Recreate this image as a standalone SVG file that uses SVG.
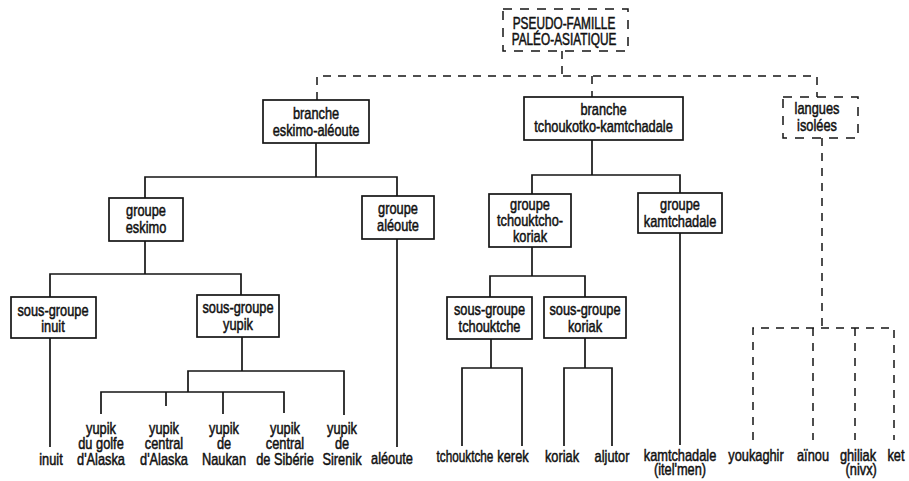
<svg xmlns="http://www.w3.org/2000/svg" width="909" height="481" viewBox="0 0 909 481">
  <style>
    .bg { fill: #ffffff; }
    .box { fill: #ffffff; stroke: #151515; stroke-width: 1.7; }
    .dbox { fill: #ffffff; stroke: #151515; stroke-width: 1.5; stroke-dasharray: 9 8; }
    .ln { fill: none; stroke: #151515; stroke-width: 1.7; }
    .dl { fill: none; stroke: #151515; stroke-width: 1.5; stroke-dasharray: 8 7; }
    text { font-family: "Liberation Sans", Arial, sans-serif; font-size: 16px; fill: #111111; stroke: #111111; stroke-width: 0.5; text-anchor: middle; }
    .caps { font-size: 16px; }
  </style>
  <rect class="bg" x="0" y="0" width="909" height="481"/>

  <!-- connectors -->
  <g id="connectors">
    <!-- dashed links from the pseudo-family -->
    <path class="dl" d="M562 51 V76"/>
    <path class="dl" d="M317 100 V76 H817 V97"/>
    <path class="dl" d="M592 76 V97"/>
    <path class="dl" d="M822 138 V328"/>
    <path class="dl" d="M753 440 V328 H894 V440"/>
    <path class="dl" d="M813 328 V440"/>
    <path class="dl" d="M855 328 V440"/>

    <!-- eskimo-aleut branch -->
    <path class="ln" d="M316 143 V177"/>
    <path class="ln" d="M145 198 V177 H397 V196"/>
    <path class="ln" d="M145 241 V274"/>
    <path class="ln" d="M50 297 V274 H241 V295"/>
    <path class="ln" d="M397 239 V447"/>
    <path class="ln" d="M50 338 V447"/>
    <path class="ln" d="M242 337 V371"/>
    <path class="ln" d="M188 392 V371 H344 V415"/>
    <path class="ln" d="M101 414 V392 H284 V413"/>
    <path class="ln" d="M166 392 V406"/>
    <path class="ln" d="M223 392 V414"/>

    <!-- chukotko-kamchatkan branch -->
    <path class="ln" d="M592 140 V175"/>
    <path class="ln" d="M532 194 V175 H680 V193"/>
    <path class="ln" d="M532 247 V276"/>
    <path class="ln" d="M490 297 V276 H585 V297"/>
    <path class="ln" d="M680 233 V445"/>
    <path class="ln" d="M491 339 V368"/>
    <path class="ln" d="M462 446 V368 H522 V446"/>
    <path class="ln" d="M585 338 V368"/>
    <path class="ln" d="M564 446 V368 H612 V446"/>
  </g>

  <!-- boxed nodes -->
  <g id="pseudo-famille">
    <rect class="dbox" x="503" y="9" width="125" height="42"/>
    <text class="caps" transform="translate(564 29) scale(0.74 1)">PSEUDO-FAMILLE<tspan x="0" dy="16">PALÉO-ASIATIQUE</tspan></text>
  </g>
  <g id="branche-eskimo-aleoute">
    <rect class="box" x="263" y="100" width="106" height="43"/>
    <text transform="translate(316 119) scale(0.8 1)">branche<tspan x="0" dy="17">eskimo-aléoute</tspan></text>
  </g>
  <g id="branche-tchoukotko-kamtchadale">
    <rect class="box" x="524" y="97" width="159" height="43"/>
    <text transform="translate(603.5 115) scale(0.8 1)">branche<tspan x="0" dy="17">tchoukotko-kamtchadale</tspan></text>
  </g>
  <g id="langues-isolees">
    <rect class="dbox" x="783" y="97" width="75" height="41"/>
    <text transform="translate(817 114) scale(0.8 1)">langues<tspan x="0" dy="17">isolées</tspan></text>
  </g>
  <g id="groupe-eskimo">
    <rect class="box" x="109" y="198" width="74" height="43"/>
    <text transform="translate(146 216) scale(0.8 1)">groupe<tspan x="0" dy="17">eskimo</tspan></text>
  </g>
  <g id="groupe-aleoute">
    <rect class="box" x="362" y="196" width="72" height="43"/>
    <text transform="translate(398 214) scale(0.8 1)">groupe<tspan x="0" dy="17">aléoute</tspan></text>
  </g>
  <g id="groupe-tchouktcho-koriak">
    <rect class="box" x="489" y="194" width="82" height="53"/>
    <text transform="translate(530 210) scale(0.8 1)">groupe<tspan x="0" dy="16.5">tchouktcho-</tspan><tspan x="0" dy="16">koriak</tspan></text>
  </g>
  <g id="groupe-kamtchadale">
    <rect class="box" x="638" y="193" width="84" height="40"/>
    <text transform="translate(680 210) scale(0.8 1)">groupe<tspan x="0" dy="17">kamtchadale</tspan></text>
  </g>
  <g id="sous-groupe-inuit">
    <rect class="box" x="11" y="297" width="85" height="41"/>
    <text transform="translate(53 316) scale(0.8 1)">sous-groupe<tspan x="0" dy="16">inuit</tspan></text>
  </g>
  <g id="sous-groupe-yupik">
    <rect class="box" x="197" y="295" width="82" height="42"/>
    <text transform="translate(238 313) scale(0.8 1)">sous-groupe<tspan x="0" dy="17">yupik</tspan></text>
  </g>
  <g id="sous-groupe-tchouktche">
    <rect class="box" x="447" y="297" width="85" height="42"/>
    <text transform="translate(489.5 315) scale(0.8 1)">sous-groupe<tspan x="0" dy="17">tchouktche</tspan></text>
  </g>
  <g id="sous-groupe-koriak">
    <rect class="box" x="544" y="297" width="82" height="41"/>
    <text transform="translate(585 315) scale(0.8 1)">sous-groupe<tspan x="0" dy="17">koriak</tspan></text>
  </g>

  <!-- languages -->
  <g id="inuit"><text transform="translate(51 465) scale(0.8 1)">inuit</text></g>
  <g id="yupik-golfe-alaska"><text transform="translate(101 434) scale(0.8 1)">yupik<tspan x="0" dy="15.5">du golfe</tspan><tspan x="0" dy="15.5">d'Alaska</tspan></text></g>
  <g id="yupik-central-alaska"><text transform="translate(164 434) scale(0.8 1)">yupik<tspan x="0" dy="15.5">central</tspan><tspan x="0" dy="15.5">d'Alaska</tspan></text></g>
  <g id="yupik-naukan"><text transform="translate(224 434) scale(0.8 1)">yupik<tspan x="0" dy="15.5">de</tspan><tspan x="0" dy="15.5">Naukan</tspan></text></g>
  <g id="yupik-central-siberie"><text transform="translate(285 434) scale(0.8 1)">yupik<tspan x="0" dy="15.5">central</tspan><tspan x="0" dy="15.5">de Sibérie</tspan></text></g>
  <g id="yupik-sirenik"><text transform="translate(342 434) scale(0.8 1)">yupik<tspan x="0" dy="15.5">de</tspan><tspan x="0" dy="15.5">Sirenik</tspan></text></g>
  <g id="aleoute"><text transform="translate(392 464) scale(0.8 1)">aléoute</text></g>
  <g id="tchouktche"><text transform="translate(465 462) scale(0.8 1)" textLength="71" lengthAdjust="spacingAndGlyphs">tchouktche</text></g>
  <g id="kerek"><text transform="translate(513 462) scale(0.8 1)">kerek</text></g>
  <g id="koriak"><text transform="translate(562 462) scale(0.8 1)">koriak</text></g>
  <g id="aljutor"><text transform="translate(612 462) scale(0.8 1)">aljutor</text></g>
  <g id="kamtchadale"><text transform="translate(680 461) scale(0.8 1)">kamtchadale<tspan x="0" dy="14">(itel'men)</tspan></text></g>
  <g id="youkaghir"><text transform="translate(756 461) scale(0.8 1)">youkaghir</text></g>
  <g id="ainou"><text transform="translate(813 461) scale(0.8 1)">aïnou</text></g>
  <g id="ghiliak"><text transform="translate(858 461) scale(0.8 1)">ghiliak<tspan x="4" dy="14">(nivx)</tspan></text></g>
  <g id="ket"><text transform="translate(896 461) scale(0.8 1)">ket</text></g>
</svg>
